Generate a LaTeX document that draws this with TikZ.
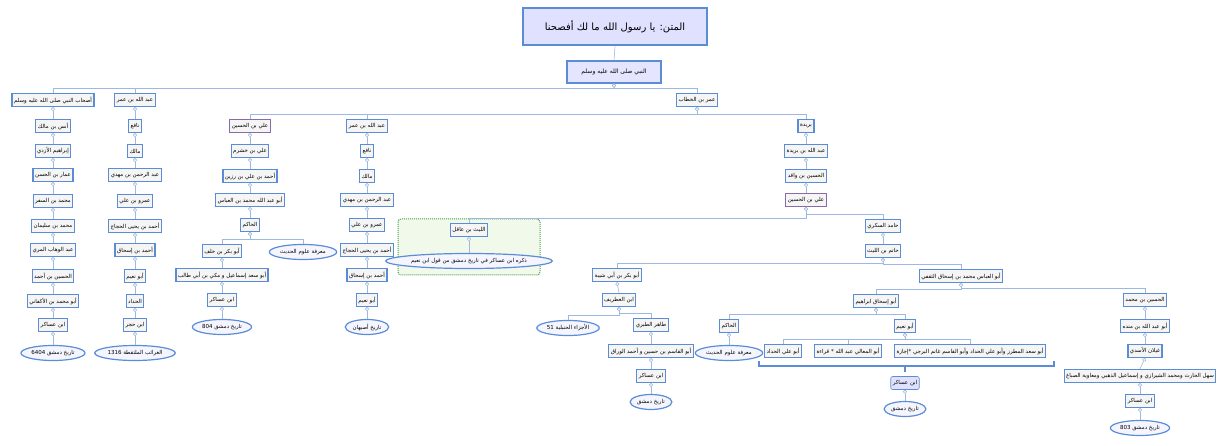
\documentclass[tikz,border=0pt]{standalone}
\usepackage{fontspec}
\usetikzlibrary{arrows.meta,shapes.geometric}
\newfontfamily\arabicfont[Script=Arabic]{DejaVu Sans}
\TeXXeTstate=1
\definecolor{bdr}{HTML}{5B8DD6}
\definecolor{lnk}{HTML}{9DB9E3}
\definecolor{pur}{HTML}{8A6AA8}
\newcommand{\ar}[1]{\beginR #1\endR}
\newcommand{\la}[1]{\beginL #1\endL{}}
\tikzset{
 bx/.style={draw=bdr,line width=1.2pt,fill=gray!8,inner sep=2pt,minimum height=13pt,font=\arabicfont\fontsize{5.5}{6}\selectfont},
 pbx/.style={bx,draw=pur},
 el/.style={ellipse,draw=bdr,line width=1.2pt,fill=blue!4,inner sep=1pt,minimum height=15pt,font=\arabicfont\fontsize{5.5}{6}\selectfont},
 edge/.style={draw=lnk,line width=0.6pt,{Circle[open,length=4pt,width=4pt,fill=white]}-},
}
\newcommand{\br}[2]{\draw[edge] (#1.south) |- ([yshift=5pt]#2.north) -- (#2.north);}
\newcommand{\st}[2]{\draw[edge] (#1.south) -- (#2.north);}
\begin{document}
\begin{tikzpicture}[x=1pt,y=-1pt]
\useasboundingbox (0,0) rectangle (1231,446);
\node[bx,line width=2pt,fill=blue!12,minimum width=184pt,minimum height=37pt,font=\arabicfont\fontsize{10}{12}\selectfont] (t) at (615,27) {\ar{المتن: يا رسول الله ما لك أفصحنا}};
\node[bx,fill=blue!10,minimum width=94pt,minimum height=22pt,font=\arabicfont\fontsize{6}{7}\selectfont] (p) at (614,72) {\ar{النبي صلى الله عليه وسلم}};
\draw[lnk,line width=0.6pt] (t.south) -- (p.north);
% level 1
\node[bx] (a0) at (53,100) {\ar{أصحاب النبي صلى الله عليه وسلم}};
\node[bx] (b0) at (135,100) {\ar{عبد الله بن عمر}};
\node[bx] (u) at (697,100) {\ar{عمر بن الخطاب}};
\br{p}{a0}\br{p}{b0}\br{p}{u}
% col a
\node[bx] (a1) at (53,126) {\ar{أنس بن مالك}};
\node[bx] (a2) at (53,151) {\ar{إبراهيم الأزدي}};
\node[bx] (a3) at (53,175) {\ar{عمار بن الحسن}};
\node[bx] (a4) at (53,201) {\ar{محمد بن السفر}};
\node[bx] (a5) at (53,226) {\ar{محمد بن سليمان}};
\node[bx] (a6) at (53,250) {\ar{عبد الوهاب المري}};
\node[bx] (a7) at (53,276) {\ar{الحسين بن أحمد}};
\node[bx] (a8) at (53,301) {\ar{أبو محمد بن الأكفاني}};
\node[bx] (a9) at (53,325) {\ar{ابن عساكر}};
\node[el] (a10) at (53,353) {\ar{تاريخ دمشق \la{6404}}};
\st{a0}{a1}\st{a1}{a2}\st{a2}{a3}\st{a3}{a4}\st{a4}{a5}\st{a5}{a6}\st{a6}{a7}\st{a7}{a8}\st{a8}{a9}\st{a9}{a10}
% col b
\node[bx] (b1) at (135,126) {\ar{نافع}};
\node[bx] (b2) at (135,151) {\ar{مالك}};
\node[bx] (b3) at (135,175) {\ar{عبد الرحمن بن مهدي}};
\node[bx] (b4) at (135,201) {\ar{عمرو بن علي}};
\node[bx] (b5) at (135,226) {\ar{أحمد بن يحيى الحجاج}};
\node[bx] (b6) at (135,250) {\ar{أحمد بن إسحاق}};
\node[bx] (b7) at (135,276) {\ar{أبو نعيم}};
\node[bx] (b8) at (135,301) {\ar{الحداد}};
\node[bx] (b9) at (135,325) {\ar{ابن حجر}};
\node[el] (b10) at (135,353) {\ar{الغرائب الملتقطة \la{1316}}};
\st{b0}{b1}\st{b1}{b2}\st{b2}{b3}\st{b3}{b4}\st{b4}{b5}\st{b5}{b6}\st{b6}{b7}\st{b7}{b8}\st{b8}{b9}\st{b9}{b10}
% Umar children
\node[pbx] (c0) at (250,126) {\ar{علي بن الحسين}};
\node[bx] (d0) at (367,126) {\ar{عبد الله بن عمر}};
\node[bx] (e0) at (806,126) {\ar{بريدة}};
\br{u}{c0}\br{u}{d0}\br{u}{e0}
% col c
\node[bx] (c1) at (250,151) {\ar{علي بن خشرم}};
\node[bx] (c2) at (250,176) {\ar{أحمد بن علي بن رزين}};
\node[bx] (c3) at (250,200) {\ar{أبو عبد الله محمد بن العباس}};
\node[bx] (c4) at (250,225) {\ar{الحاكم}};
\node[bx] (c5) at (222,251) {\ar{أبو بكر بن خلف}};
\node[el] (c5b) at (303,252) {\ar{معرفة علوم الحديث}};
\node[bx] (c6) at (222,275) {\ar{أبو سعد إسماعيل و مكي بن أبي طالب}};
\node[bx] (c7) at (222,300) {\ar{ابن عساكر}};
\node[el] (c8) at (222,327) {\ar{تاريخ دمشق \la{804}}};
\st{c0}{c1}\st{c1}{c2}\st{c2}{c3}\st{c3}{c4}\br{c4}{c5}\br{c4}{c5b}\st{c5}{c6}\st{c6}{c7}\st{c7}{c8}
% col d
\node[bx] (d1) at (367,151) {\ar{نافع}};
\node[bx] (d2) at (367,176) {\ar{مالك}};
\node[bx] (d3) at (367,200) {\ar{عبد الرحمن بن مهدي}};
\node[bx] (d4) at (367,225) {\ar{عمرو بن علي}};
\node[bx] (d5) at (367,250) {\ar{أحمد بن يحيى الحجاج}};
\node[bx] (d6) at (367,275) {\ar{أحمد بن إسحاق}};
\node[bx] (d7) at (367,300) {\ar{أبو نعيم}};
\node[el] (d8) at (367,327) {\ar{تاريخ أصبهان}};
\st{d0}{d1}\st{d1}{d2}\st{d2}{d3}\st{d3}{d4}\st{d4}{d5}\st{d5}{d6}\st{d6}{d7}\st{d7}{d8}
% col e
\node[bx] (e1) at (806,151) {\ar{عبد الله بن بريدة}};
\node[bx] (e2) at (806,176) {\ar{الحسين بن واقد}};
\node[pbx] (e3) at (806,200) {\ar{علي بن الحسين}};
\st{e0}{e1}\st{e1}{e2}\st{e2}{e3}
% group
\draw[draw=green!45!black!70,densely dotted,line width=1pt,fill=green!40!olive!8,rounded corners=3pt] (398,219) rectangle (540,275);
\node[bx] (l0) at (469,230) {\ar{الليث بن عاقل}};
\node[el,minimum width=128pt] (l1) at (469,261) {\ar{ذكره ابن عساكر في تاريخ دمشق من قول ابن نعيم}};
\br{e3}{l0}\st{l0}{l1}
\node[bx] (h0) at (883,226) {\ar{حامد السكري}};
\node[bx] (h1) at (883,251) {\ar{حاتم بن الليث}};
\br{e3}{h0}\st{h0}{h1}
\node[bx] (k0) at (617,275) {\ar{أبو بكر بن أبي شيبة}};
\node[bx] (q0) at (961,276) {\ar{أبو العباس محمد بن إسحاق الثقفي}};
\br{h1}{k0}\br{h1}{q0}
% col k
\node[bx] (k1) at (619,300) {\ar{ابن الغطريف}};
\node[el] (k2b) at (568,328) {\ar{الأجزاء الحنبلية \la{51}}};
\node[bx] (k2) at (651,325) {\ar{طاهر الطبري}};
\node[bx] (k3) at (651,351) {\ar{أبو القاسم بن حسين و أحمد الوراق}};
\node[bx] (k4) at (651,376) {\ar{ابن عساكر}};
\node[el] (k5) at (651,402) {\ar{تاريخ دمشق}};
\st{k0}{k1}\br{k1}{k2b}\br{k1}{k2}\st{k2}{k3}\st{k3}{k4}\st{k4}{k5}
% q
\node[bx] (r0) at (876,301) {\ar{أبو إسحاق ابراهيم}};
\node[bx] (s0) at (1145,300) {\ar{الحسين بن محمد}};
\br{q0}{r0}\br{q0}{s0}
\node[bx] (r1) at (729,326) {\ar{الحاكم}};
\node[el] (r2) at (729,353) {\ar{معرفة علوم الحديث}};
\node[bx] (n0) at (905,326) {\ar{أبو نعيم}};
\br{r0}{r1}\br{r0}{n0}\st{r1}{r2}
\node[bx] (n1) at (783,351) {\ar{أبو علي الحداد}};
\node[bx] (n2) at (848,351) {\ar{أبو المعالي عبد الله * قراءة}};
\node[bx] (n3) at (970,351) {\ar{أبو سعد المطرز وأبو علي الحداد وأبو القاسم غانم البرجي *إجازة}};
\br{n0}{n1}\br{n0}{n2}\br{n0}{n3}
\draw[bdr,line width=1.5pt] (759,361) -- (759,366) -- (1054,366) -- (1054,361);
\coordinate (bm) at (905,366);
\node[bx,fill=blue!12,rounded corners=2pt,line width=0.6pt] (n4) at (905,383) {\ar{ابن عساكر}};
\draw[bdr,line width=1.5pt] (bm) -- ++(0,6);
\node[el] (n5) at (905,409) {\ar{تاريخ دمشق}};
\st{n4}{n5}
% s
\node[bx] (s1) at (1145,326) {\ar{أبو عبد الله بن منده}};
\node[bx] (s2) at (1145,351) {\ar{غيلان الأسدي}};
\node[bx] (s3) at (1140,376) {\ar{سهل الحارث ومحمد الشيرازي و إسماعيل الذهبي ومعاوية الصباغ}};
\node[bx] (s4) at (1140,401) {\ar{ابن عساكر}};
\node[el] (s5) at (1140,428) {\ar{تاريخ دمشق \la{803}}};
\st{s0}{s1}\st{s1}{s2}\st{s2}{s3}\st{s3}{s4}\st{s4}{s5}
\end{tikzpicture}
\end{document}
